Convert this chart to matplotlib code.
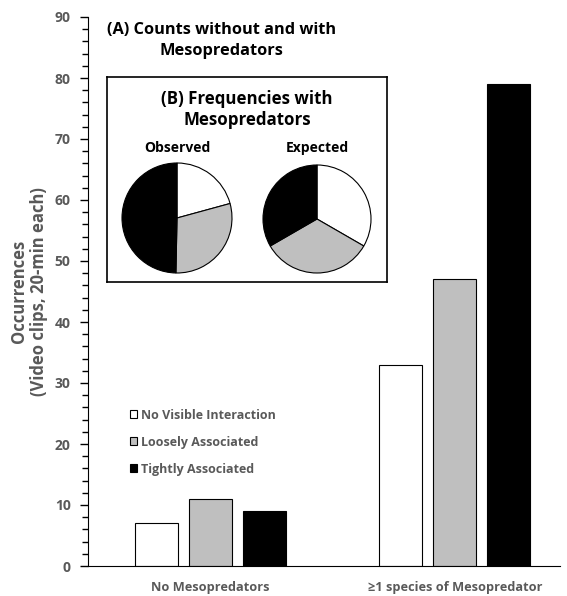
import matplotlib.pyplot as plt

groups = ['No Mesopredators', '\u22651 species of Mesopredator']
series = ['No Visible Interaction', 'Loosely Associated', 'Tightly Associated']
no_meso = [7, 11, 9]
with_meso = [33, 47, 79]
expected = [1, 1, 1]
colors = ['white', '#bfbfbf', 'black']
grey = '#595959'

plt.rcParams['font.family'] = ['Open Sans', 'DejaVu Sans']
plt.rcParams['font.weight'] = 'bold'

fig = plt.figure(figsize=(5.67, 5.96), dpi=100)
ax = fig.add_axes([88/567, 30/596, 472/567, 549/596])

w = 0.176
step = 0.221
for i in range(3):
    vals = [no_meso[i], with_meso[i]]
    xs = [g + (i - 1) * step for g in range(2)]
    ax.bar(xs, vals, w, color=colors[i], edgecolor='black', linewidth=0.8, label=series[i])

ax.set_xlim(-0.5, 1.43)
ax.set_ylim(0, 90)
ax.set_yticks(range(0, 91, 10))
ax.set_yticks(range(0, 91, 2), minor=True)
ax.set_xticks([0, 1])
ax.set_xticklabels(groups, fontsize=9.2, color=grey, fontweight='bold')
ax.tick_params(axis='x', length=0, pad=11)
ax.tick_params(axis='y', which='major', length=5.5, width=1, direction='out', labelsize=10,
               labelcolor=grey, pad=7)
ax.tick_params(axis='y', which='minor', length=4, width=1, direction='out')
for lab in ax.get_yticklabels():
    lab.set_fontweight('bold')
for s in ['top', 'right']:
    ax.spines[s].set_visible(False)
ax.set_ylabel('Occurrences\n(Video clips, 20-min each)', fontsize=12, color=grey,
              fontweight='bold', labelpad=5, linespacing=1.15)

ax.text(0.282, 0.99, '(A) Counts without and with\nMesopredators', transform=ax.transAxes,
        ha='center', va='top', fontsize=11.8, fontweight='bold', color='black', linespacing=1.35)

leg = ax.legend(loc='upper left', bbox_to_anchor=(0.065, 0.307), frameon=False, fontsize=9,
                handlelength=0.6, handleheight=0.6, handletextpad=0.3, labelspacing=1.12)
for t in leg.get_texts():
    t.set_color(grey)
    t.set_fontweight('bold')

# inset with pies
ins = fig.add_axes([107/567, 1 - 282/596, 280/567, 205/596])
ins.pie(with_meso, colors=colors, startangle=90, counterclock=False, center=(70, 64), radius=55,
        wedgeprops=dict(edgecolor='black', linewidth=0.8))
ins.pie(expected, colors=colors, startangle=90, counterclock=False, center=(210, 63), radius=54,
        wedgeprops=dict(edgecolor='black', linewidth=0.8))
ins.set_xlim(0, 280)
ins.set_ylim(0, 205)
ins.set_aspect('equal')
ins.set_frame_on(True)
ins.set_xticks([])
ins.set_yticks([])
for s in ins.spines.values():
    s.set_linewidth(1.2)
ins.text(140, 192, '(B) Frequencies with\nMesopredators', ha='center', va='top', fontsize=12.2,
         fontweight='bold', linespacing=1.2)
ins.text(70, 127, 'Observed', ha='center', va='bottom', fontsize=10, fontweight='bold')
ins.text(210, 127, 'Expected', ha='center', va='bottom', fontsize=10, fontweight='bold')

fig.savefig('out.png', dpi=100)
